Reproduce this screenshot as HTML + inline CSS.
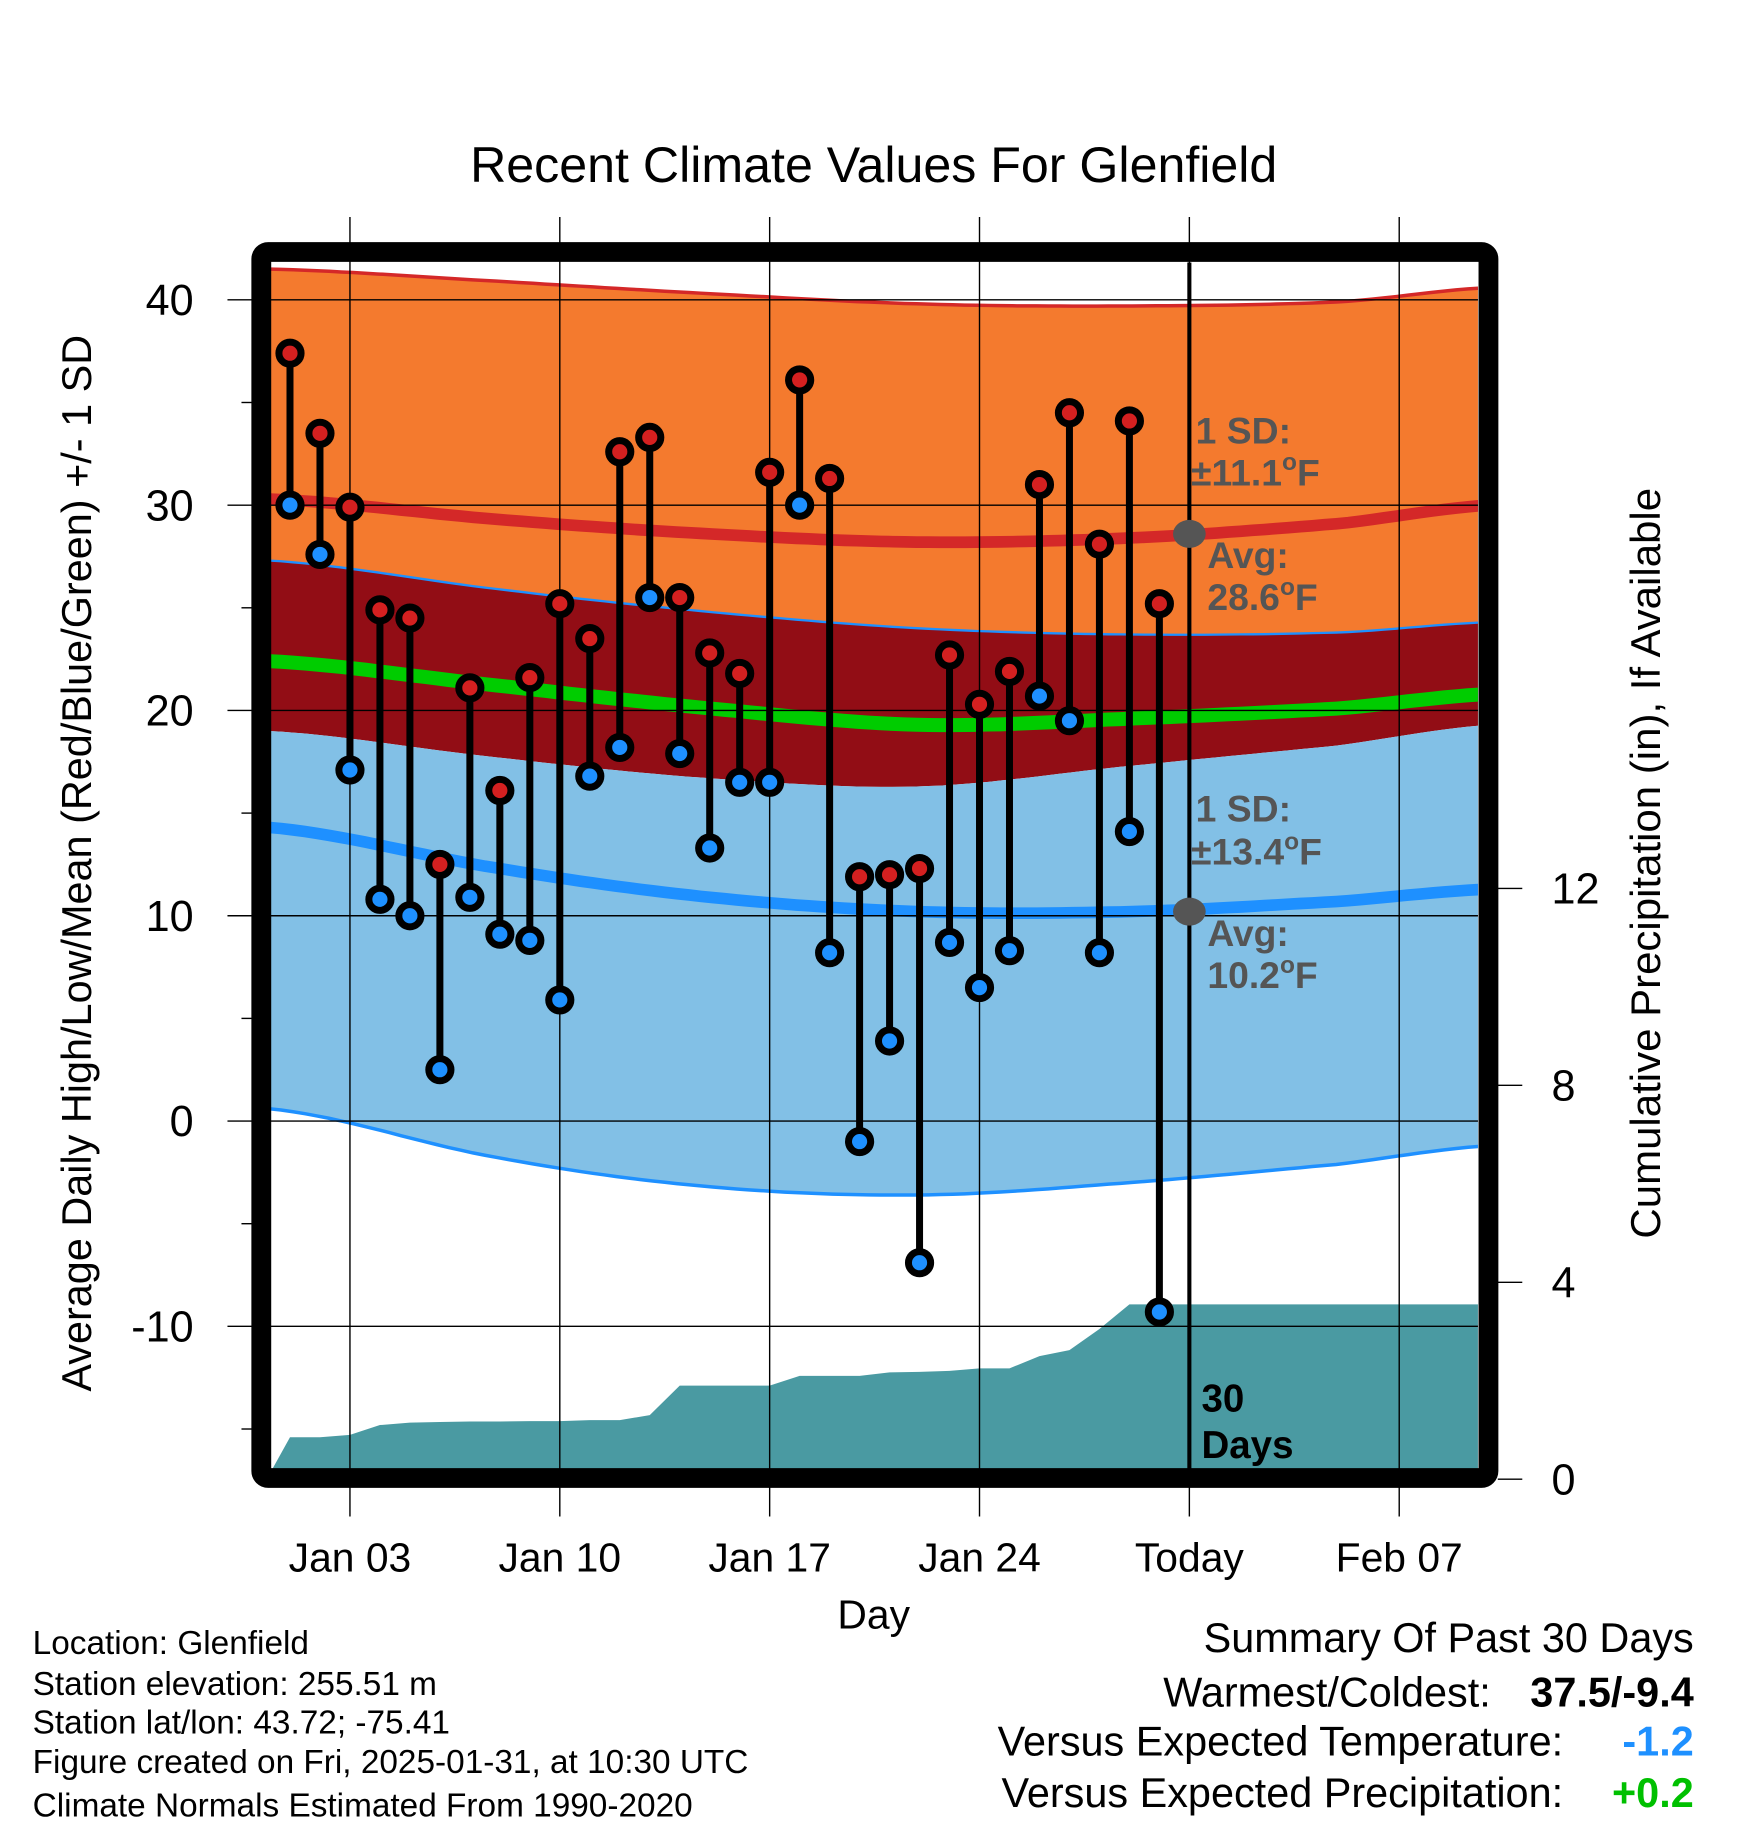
<!DOCTYPE html>
<html><head><meta charset="utf-8"><style>
html,body{margin:0;padding:0;background:#fff}
svg{display:block;font-family:"Liberation Sans",sans-serif}
</style></head><body>
<svg id="chart" width="1748" height="1828" viewBox="0 0 1498.5 1567" xmlns="http://www.w3.org/2000/svg">
<defs><clipPath id="pc"><rect x="232" y="225" width="1035" height="1034"/></clipPath></defs>
<text x="749" y="156" font-size="43" text-anchor="middle">Recent Climate Values For Glenfield</text>
<g id="bands" clip-path="url(#pc)"></g>
<g id="grid"></g>
<g id="marks"></g>
<rect x="224" y="216" width="1052" height="1051" rx="6" fill="none" stroke="#000" stroke-width="17"/>
<g id="axes"></g>
<g fill="#555" font-weight="bold" font-size="32">
<text x="1025" y="380">1 SD:</text>
<text x="1021" y="416">±11.1<tspan font-size="21" dy="-13">o</tspan><tspan dy="13">F</tspan></text>
<text x="1035" y="487">Avg:</text>
<text x="1035" y="523">28.6<tspan font-size="21" dy="-13">o</tspan><tspan dy="13">F</tspan></text>
<text x="1025" y="704">1 SD:</text>
<text x="1021" y="741">±13.4<tspan font-size="21" dy="-13">o</tspan><tspan dy="13">F</tspan></text>
<text x="1035" y="811">Avg:</text>
<text x="1035" y="847">10.2<tspan font-size="21" dy="-13">o</tspan><tspan dy="13">F</tspan></text>
</g>
<g font-weight="bold" font-size="33"><text x="1030" y="1210">30</text><text x="1030" y="1250">Days</text></g>
<text transform="translate(78,740) rotate(-90)" font-size="35.5" text-anchor="middle">Average Daily High/Low/Mean (Red/Blue/Green) +/- 1 SD</text>
<text transform="translate(1423,740) rotate(-90)" font-size="36" text-anchor="middle">Cumulative Precipitation (in), If Available</text>
<text x="749" y="1396" font-size="35" text-anchor="middle">Day</text>
<g font-size="28.6">
<text x="28" y="1418">Location: Glenfield</text>
<text x="28" y="1453">Station elevation: 255.51 m</text>
<text x="28" y="1486">Station lat/lon: 43.72; -75.41</text>
<text x="28" y="1520">Figure created on Fri, 2025-01-31, at 10:30 UTC</text>
<text x="28" y="1557">Climate Normals Estimated From 1990-2020</text>
</g>
<g font-size="35.5">
<text x="1452" y="1416" text-anchor="end">Summary Of Past 30 Days</text>
<text x="1278" y="1463" text-anchor="end">Warmest/Coldest:</text>
<text x="1452" y="1463" text-anchor="end" font-weight="bold">37.5/-9.4</text>
<text x="1340" y="1505" text-anchor="end">Versus Expected Temperature:</text>
<text x="1452" y="1505" text-anchor="end" font-weight="bold" fill="#1e90ff">-1.2</text>
<text x="1340" y="1549" text-anchor="end">Versus Expected Precipitation:</text>
<text x="1452" y="1549" text-anchor="end" font-weight="bold" fill="#00c000">+0.2</text>
</g>
</svg>
<script>
const normDays=[-0.65,7,14,21,28,35,40];
const highUpper=[41.5,40.9,40.3,39.8,39.7,39.9,40.6];
const highAvg=[30.3,29.3,28.6,28.2,28.4,29.1,30.0];
const highLower=[27.3,25.9,24.8,24.0,23.7,23.8,24.3];
const meanAvg=[22.4,21.2,20.1,19.3,19.6,20.1,20.8];
const lowUpper=[19.0,17.7,16.7,16.3,17.3,18.3,19.3];
const lowAvg=[14.3,12.3,10.9,10.2,10.2,10.7,11.3];
const lowLower=[0.6,-1.8,-3.2,-3.6,-3.0,-2.1,-1.2];
const highs=[37.4,33.5,29.9,24.9,24.5,12.5,21.1,16.1,21.6,25.2,23.5,32.6,33.3,25.5,22.8,21.8,31.6,36.1,31.3,11.9,12.0,12.3,22.7,20.3,21.9,31.0,34.5,28.1,34.1,25.2];
const lows=[30.0,27.6,17.1,10.8,10.0,2.5,10.9,9.1,8.8,5.9,16.8,18.2,25.5,17.9,13.3,16.5,16.5,30.0,8.2,-1.0,3.9,-6.9,8.7,6.5,8.3,20.7,19.5,8.2,14.1,-9.3];
const precip=[0.85,0.85,0.9,1.1,1.15,1.16,1.17,1.17,1.18,1.18,1.2,1.2,1.3,1.9,1.9,1.9,1.9,2.1,2.1,2.1,2.17,2.18,2.2,2.25,2.25,2.5,2.62,3.05,3.55,3.55];
const yTicks=[40,30,20,10,0,-10];
const y2Ticks=[0,4,8,12];
const xTickDays=[2,9,16,23,30,37];
const xTickLabels=["Jan 03","Jan 10","Jan 17","Jan 24","Today","Feb 07"];
const NS="http://www.w3.org/2000/svg";
const X=d=>248.6+25.7*d;
const Y=v=>961-17.6*v;
const Y2=v=>1268-42.2*v;
function mk(tag,parent,attrs){const e=document.createElementNS(NS,tag);for(const k in attrs)e.setAttribute(k,attrs[k]);parent.appendChild(e);return e;}
function curve(arr){const pts=[];const n=normDays.length;for(let d=-0.7;d<=40.01;d+=0.4){let i=0;while(i<n-2&&d>normDays[i+1])i++;const t=Math.max(0,Math.min(1,(d-normDays[i])/(normDays[i+1]-normDays[i])));
const p0=arr[Math.max(0,i-1)],p1=arr[i],p2=arr[i+1],p3=arr[Math.min(n-1,i+2)];
const t2=t*t,t3=t2*t;const v=0.5*((2*p1)+(-p0+p2)*t+(2*p0-5*p1+4*p2-p3)*t2+(-p0+3*p1-3*p2+p3)*t3);
pts.push([X(d),Y(v)]);}return pts;}
const S=p=>p.map(q=>q[0].toFixed(1)+","+q[1].toFixed(1)).join(" ");
const bands=document.getElementById('bands');
function band(up,lo,fill,name){const p=curve(up).concat(curve(lo).reverse());const e=mk('polygon',bands,{points:S(p),fill:fill});}
function line(arr,color,w,name){const e=mk('polyline',bands,{points:S(curve(arr)),fill:'none',stroke:color,'stroke-width':w});}
band(highUpper,highLower,'#f47a2e','high-sd-band');
band(highLower,lowUpper,'#920d15','overlap-band');
band(lowUpper,lowLower,'#82c0e6','low-sd-band');
{const pts=[[232,1262],[X(0),Y2(precip[0])]];precip.forEach((v,i)=>pts.push([X(i),Y2(v)]));pts.push([1268,Y2(precip[precip.length-1])],[1268,1262]);
const e=mk('polygon',bands,{points:S(pts),fill:'#4a9aa2'});}
line(highUpper,'#d42828',3,'high-upper-line');
line(highLower,'#1e90ff',2,'high-lower-line');
line(lowLower,'#1e90ff',3,'low-lower-line');
line(highAvg,'#d42828',10,'high-avg-line');
line(meanAvg,'#00cc00',12,'mean-line');
line(lowAvg,'#1e90ff',10,'low-avg-line');
const grid=document.getElementById('grid');
yTicks.forEach(v=>{const e=mk('line',grid,{x1:232,x2:1267,y1:Y(v),y2:Y(v),stroke:'#000','stroke-width':1.2});});
xTickDays.forEach(d=>{const e=mk('line',grid,{x1:X(d),x2:X(d),y1:186,y2:1300,stroke:'#000','stroke-width':1.2});});
const marks=document.getElementById('marks');
{const e=mk('line',marks,{x1:X(30),x2:X(30),y1:225,y2:1259,stroke:'#000','stroke-width':3.5});}
highs.forEach((h,i)=>{const e=mk('line',marks,{x1:X(i),x2:X(i),y1:Y(h),y2:Y(lows[i]),stroke:'#000','stroke-width':6});});
highs.forEach((h,i)=>{const a=mk('circle',marks,{cx:X(i),cy:Y(h),r:9.5,fill:'#d42020',stroke:'#000','stroke-width':6});
const b=mk('circle',marks,{cx:X(i),cy:Y(lows[i]),r:9.5,fill:'#1e90ff',stroke:'#000','stroke-width':6});});
{const a=mk('ellipse',marks,{cx:X(30),cy:Y(28.6),rx:14,ry:12,fill:'#555'});
const b=mk('ellipse',marks,{cx:X(30),cy:Y(10.2),rx:14,ry:12,fill:'#555'});}
const axes=document.getElementById('axes');
yTicks.forEach(v=>{const t=mk('line',axes,{x1:195,x2:216,y1:Y(v),y2:Y(v),stroke:'#000','stroke-width':1.2});
const l=mk('text',axes,{x:166,y:Y(v)+13,'font-size':37,'text-anchor':'end'});l.textContent=v;});
[35,25,15,5,-5,-15].forEach(v=>{const t=mk('line',axes,{x1:207,x2:216,y1:Y(v),y2:Y(v),stroke:'#000','stroke-width':1.2});});
y2Ticks.forEach(v=>{const t=mk('line',axes,{x1:1284,x2:1305,y1:Y2(v),y2:Y2(v),stroke:'#000','stroke-width':1.2});
const l=mk('text',axes,{x:1330,y:Y2(v)+13,'font-size':37});l.textContent=v;});
xTickDays.forEach((d,i)=>{const l=mk('text',axes,{x:X(d),y:1347,'font-size':35,'text-anchor':'middle'});l.textContent=xTickLabels[i];});
</script>
</body></html>
